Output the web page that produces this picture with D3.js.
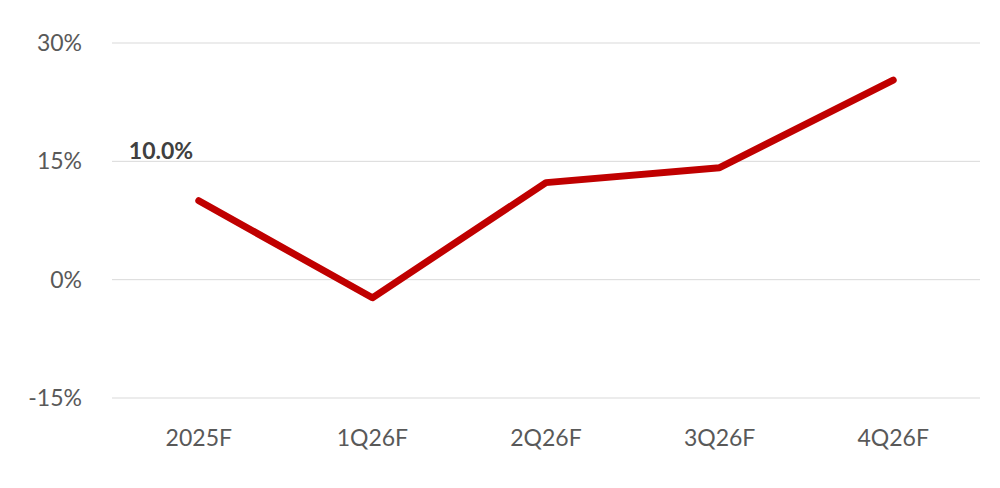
<!DOCTYPE html>
<html>
<head>
<meta charset="utf-8">
<script src="https://cdn.jsdelivr.net/npm/d3@7"></script>
<style>
  body { margin: 0; background: #fff; }
  text { font-family: Lato, "Open Sans", sans-serif; }
</style>
</head>
<body>
<div id="chart"></div>
<script>
// data
const categories = ["2025F", "1Q26F", "2Q26F", "3Q26F", "4Q26F"]
const values = [10.0, -2.3, 12.3, 14.2, 25.3]
const yTicks = [-15, 0, 15, 30]

const width = 1000, height = 488

const svg = d3.select("#chart").append("svg")
    .attr("width", width)
    .attr("height", height)

const x = d3.scaleBand()
    .domain(categories)
    .range([112, 980])

const y = d3.scaleLinear()
    .domain([-15, 30])
    .range([398, 43])

// gridlines
svg.append("g")
    .selectAll("line")
    .data(yTicks)
    .enter().append("line")
    .attr("x1", 112).attr("x2", 980)
    .attr("y1", d => y(d)).attr("y2", d => y(d))
    .attr("stroke", "#d9d9d9")
    .attr("stroke-width", 1)

// y labels
svg.append("g")
    .selectAll("text")
    .data(yTicks)
    .enter().append("text")
    .attr("x", 82)
    .attr("y", d => y(d))
    .attr("dy", "0.35em")
    .attr("text-anchor", "end")
    .attr("fill", "#595959")
    .style("font-size", "23px")
    .text(d => d + "%")

// x labels
svg.append("g")
    .selectAll("text")
    .data(categories)
    .enter().append("text")
    .attr("x", d => x(d) + x.bandwidth() / 2)
    .attr("y", 446)
    .attr("text-anchor", "middle")
    .attr("fill", "#595959")
    .style("font-size", "23px")
    .text(d => d)

const line = d3.line()
    .x((d, i) => x(categories[i]) + x.bandwidth() / 2)
    .y(d => y(d))

svg.append("path")
    .datum(values)
    .attr("d", line)
    .attr("fill", "none")
    .attr("stroke", "#c00000")
    .attr("stroke-width", 7)
    .attr("stroke-linecap", "round")
    .attr("stroke-linejoin", "round")

// data label on first point
svg.append("text")
    .attr("x", x(categories[0]) + x.bandwidth() / 2 - 70)
    .attr("y", y(values[0]) - 42)
    .attr("fill", "#404040")
    .style("font-size", "23px")
    .style("font-weight", "bold")
    .text(values[0].toFixed(1) + "%")
</script>
</body>
</html>
